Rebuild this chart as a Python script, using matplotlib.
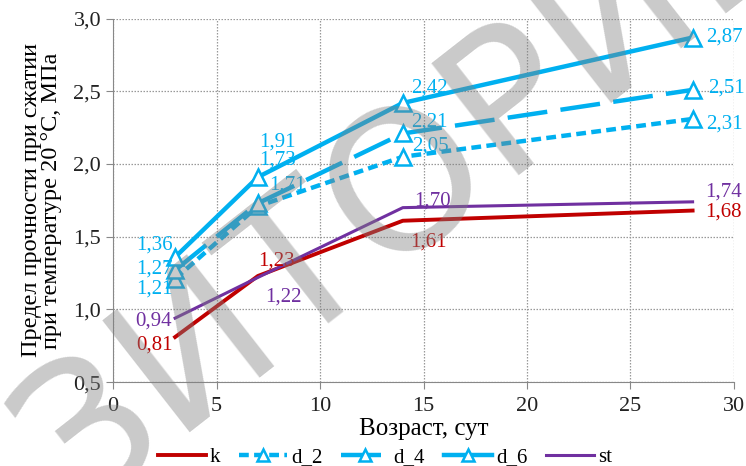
import matplotlib
matplotlib.use("Agg")
import matplotlib.pyplot as plt

plt.rcParams['font.family'] = ['Liberation Serif', 'DejaVu Serif']

days = [3, 7, 14, 28]
k = [0.81, 1.23, 1.61, 1.68]
d_2 = [1.21, 1.71, 2.05, 2.31]
d_4 = [1.27, 1.73, 2.21, 2.51]
d_6 = [1.36, 1.91, 2.42, 2.87]
st = [0.94, 1.22, 1.70, 1.74]

red = '#C00000'
blue = '#00B0F0'
purple = '#7030A0'

fig = plt.figure(figsize=(7.46, 4.66), dpi=100)
ax = fig.add_axes([0.1515, 0.180, 0.8324, 0.780])

tri = dict(marker='^', ms=11, mfc='white', mec=blue, mew=1.8)
ax.plot(days, k, color=red, lw=2.8, label='k', zorder=3)
ax.plot(days, d_2, color=blue, lw=3.2, ls=(0, (2.2, 1.2)), label='d_2', zorder=3, **tri)
ax.plot(days, d_4, color=blue, lw=3.2, ls=(0, (9, 3)), label='d_4', zorder=3, **tri)
ax.plot(days, d_6, color=blue, lw=3.2, label='d_6', zorder=3, **tri)
ax.plot(days, st, color=purple, lw=2.2, label='st', zorder=3)

fs = 15
def lab(x, y, dx, dy, col, ha='left'):
    ax.annotate(f'{y:.2f}'.replace('.', ','), (x, y), xytext=(dx, dy),
                textcoords='offset points', color=col, fontsize=fs,
                ha=ha, va='center')

# d_6
lab(3, 1.36, -2, 9, blue, ha='right')
lab(7, 1.91, 1, 25, blue)
lab(14, 2.42, 6, 11, blue)
lab(28, 2.87, 10, 0, blue)
# d_4
lab(3, 1.27, -2, 1, blue, ha='right')
lab(7, 1.73, 1, 31, blue)
lab(14, 2.21, 6, 8, blue)
lab(28, 2.51, 11, 1, blue)
# d_2
lab(3, 1.21, -2, -7, blue, ha='right')
lab(7, 1.71, 8, 15, blue)
lab(14, 2.05, 7, 8, blue)
lab(28, 2.31, 10, -4, blue)
# k
lab(3, 0.81, -2, -6, red, ha='right')
lab(7, 1.23, 0, 11, red)
lab(14, 1.61, 5, -15, red)
lab(28, 1.68, 9, -1, red)
# st
lab(3, 0.94, -2, -2, purple, ha='right')
lab(7, 1.22, 5, -14, purple)
lab(14, 1.70, 8, 5, purple)
lab(28, 1.74, 9, 7, purple)

ax.set_xlim(0, 30)
ax.set_ylim(0.5, 3.0)
ax.set_xticks(range(0, 31, 5))
ax.set_yticks([0.5, 1.0, 1.5, 2.0, 2.5, 3.0])
ax.set_yticklabels(['0,5', '1,0', '1,5', '2,0', '2,5', '3,0'])
ax.tick_params(labelsize=16, labelcolor='#222222', length=5, color='#888888',
               direction='out')
ax.tick_params(axis='x', pad=6)
ax.grid(True, color='#999999', ls=(0, (1.2, 1.2)), lw=0.9)
for s in ['top', 'right']:
    ax.spines[s].set_visible(False)
for s in ['left', 'bottom']:
    ax.spines[s].set_color('#888888')

ax.set_xlabel('Возраст, сут', fontsize=18, labelpad=1)
ax.set_ylabel('Предел прочности при сжатии\nпри температуре 20 °С, МПа',
              fontsize=17.5, labelpad=8, linespacing=0.95)

fig.legend(loc='center', bbox_to_anchor=(0.516, 0.018), ncol=5,
           frameon=False, fontsize=15, handlelength=2.3, columnspacing=0.9,
           handletextpad=0.2, markerscale=0.8)

# watermark
fig.text(0.10, -0.10, 'ЗИТОРИЙ', fontsize=140, color='#808080', alpha=0.42,
         rotation=38, rotation_mode='anchor', ha='left', va='baseline',
         family='DejaVu Sans', zorder=10)

fig.savefig('out.png', dpi=100)
